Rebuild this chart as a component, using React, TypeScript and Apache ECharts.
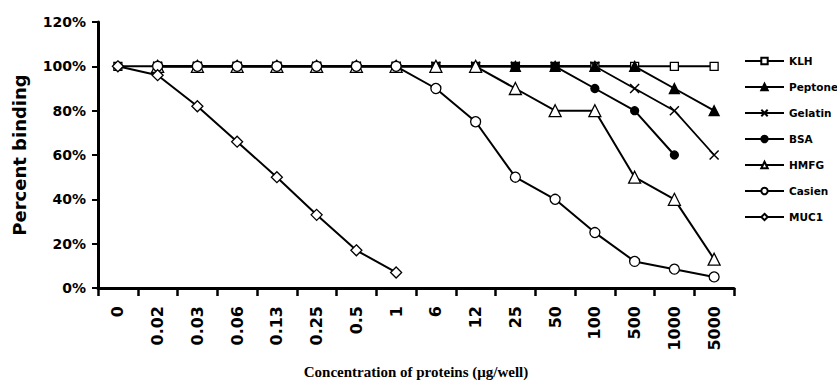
import React, { useEffect, useRef } from "react";
import * as echarts from "echarts";

// Protein concentrations (µg/well) on the category axis
const categories = ["0", "0.02", "0.03", "0.06", "0.13", "0.25", "0.5", "1", "6", "12", "25", "50", "100", "500", "1000", "5000"];

// Percent binding per protein (null = not measured)
const klh = [100, 100, 100, 100, 100, 100, 100, 100, 100, 100, 100, 100, 100, 100, 100, 100];
const peptone = [null, 100, 100, 100, 100, 100, 100, 100, 100, 100, 100, 100, 100, 100, 90, 80];
const gelatin = [null, 100, 100, 100, 100, 100, 100, 100, 100, 100, 100, 100, 100, 90, 80, 60];
const bsa = [null, 100, 100, 100, 100, 100, 100, 100, 100, 100, 100, 100, 90, 80, 60, null];
const hmfg = [null, 100, 100, 100, 100, 100, 100, 100, 100, 100, 90, 80, 80, 50, 40, 13];
const casien = [null, 100, 100, 100, 100, 100, 100, 100, 90, 75, 50, 40, 25, 12, 8.5, 5];
const muc1 = [100, 96, 82, 66, 50, 33, 17, 7, null, null, null, null, null, null, null, null];

const yTicks = { min: 0, max: 120, interval: 20 };

const BOLD = "DejaVu Sans";
const CROSS = "path://M0,0L10,10M10,0L0,10";

function lineSeries(
  name: string,
  data: (number | null)[],
  symbol: string,
  symbolSize: number,
  fill: string,
  lineWidth = 2,
  borderWidth = 1.3
) {
  return {
    type: "line",
    name,
    data,
    symbol,
    symbolSize,
    showAllSymbol: true,
    connectNulls: false,
    lineStyle: { color: "#000", width: lineWidth },
    itemStyle: { color: fill, borderColor: "#000", borderWidth },
    emphasis: { disabled: true },
  };
}

export default function App() {
  const ref = useRef<HTMLDivElement>(null);

  useEffect(() => {
    const chart = echarts.init(ref.current!, null, { renderer: "svg" });
    chart.setOption({
      animation: false,
      backgroundColor: "#fff",
      grid: { left: 98, right: 103, top: 22, bottom: 100, containLabel: false },
      legend: {
        orient: "vertical",
        left: 744,
        top: 55,
        padding: 0,
        itemWidth: 39,
        itemHeight: 8,
        itemGap: 14,
        textStyle: { fontFamily: BOLD, fontWeight: "bold", fontSize: 10.5, color: "#000", lineHeight: 12 },
        data: ["KLH", "Peptone", "Gelatin", "BSA", "HMFG", "Casien", "MUC1"],
      },
      xAxis: {
        type: "category",
        data: categories,
        boundaryGap: true,
        name: "Concentration of proteins (μg/well)",
        nameLocation: "middle",
        nameGap: 76,
        nameTextStyle: {
          fontFamily: "Liberation Serif",
          fontWeight: "bold",
          fontSize: 15,
          color: "#000",
        },
        axisLine: { show: true, lineStyle: { color: "#000", width: 3 } },
        axisTick: { show: true, alignWithLabel: false, length: 8, lineStyle: { color: "#000", width: 2.5 } },
        axisLabel: {
          rotate: 90,
          interval: 0,
          margin: 18,
          fontFamily: BOLD,
          fontWeight: "bold",
          fontSize: 16,
          color: "#000",
        },
        splitLine: { show: false },
      },
      yAxis: {
        type: "value",
        min: yTicks.min,
        max: yTicks.max,
        interval: yTicks.interval,
        name: "Percent binding",
        nameLocation: "middle",
        nameGap: 70,
        nameTextStyle: { fontFamily: BOLD, fontWeight: "bold", fontSize: 18, color: "#000" },
        axisLine: { show: true, lineStyle: { color: "#000", width: 3 } },
        axisTick: { show: true, length: 6, lineStyle: { color: "#000", width: 2 } },
        axisLabel: {
          formatter: "{value}%",
          margin: 12,
          fontFamily: BOLD,
          fontWeight: "bold",
          fontSize: 14,
          color: "#000",
        },
        splitLine: { show: false },
      },
      series: [
        lineSeries("KLH", klh, "rect", 8, "#fff"),
        lineSeries("Peptone", peptone, "triangle", 10, "#000"),
        lineSeries("Gelatin", gelatin, CROSS, 9, "#000", 1.8, 1.5),
        lineSeries("BSA", bsa, "circle", 8, "#000"),
        lineSeries("HMFG", hmfg, "triangle", 12, "#fff"),
        lineSeries("Casien", casien, "circle", 10, "#fff"),
        lineSeries("MUC1", muc1, "diamond", 11, "#fff"),
      ],
    });
    return () => chart.dispose();
  }, []);

  return (
    <div
      ref={ref}
      style={{ position: "fixed", left: 0, top: 0, width: 837, height: 388, background: "#fff" }}
    />
  );
}
